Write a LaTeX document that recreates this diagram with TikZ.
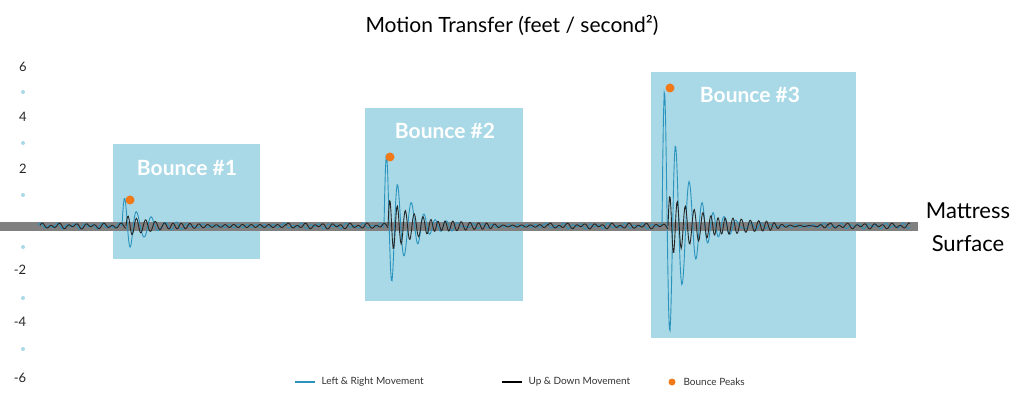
\documentclass[tikz,border=0pt]{standalone}
\usepackage{fontspec}
\setmainfont{Lato}
\definecolor{boxblue}{HTML}{A9D9E6}
\definecolor{sigblue}{HTML}{2A93BE}
\definecolor{peak}{HTML}{F07A1A}
\definecolor{dotblue}{HTML}{A9D9E6}
\newcommand\mybursts[5]{\draw[#5] plot[domain=0:160,samples=220] ({\x+#1},{226-#2*exp(-\x/#3)*sin(#4*\x+40*sin(7*\x))-1.5*sin(41*\x)});}
\newcommand\mynoiseseg[3]{\draw[#3] plot[domain=0:#2,samples=120] ({\x+#1},{226-1.8*sin(41*\x)-1.2*sin(23*\x+30)});}
\begin{document}
\begin{tikzpicture}[x=1pt,y=-1pt,
  bx/.style={fill=boxblue,draw=none},
  bsig/.style={sigblue,line width=0.9pt},
  ksig/.style={black!85,line width=0.9pt},
  blab/.style={text=white,font=\bfseries\fontsize{21}{24}\selectfont},
  ylab/.style={font=\fontsize{13}{15}\selectfont,text=black!85},
  leg/.style={font=\fontsize{10}{12}\selectfont,anchor=west,text=black!80}]
\useasboundingbox (0,0) rectangle (1024,403);
\fill[white] (0,0) rectangle (1024,403);
% boxes
\fill[bx] (113,144) rectangle (260,259);
\fill[bx] (365,108) rectangle (523,301);
\fill[bx] (651,72) rectangle (856,338);
% mattress band
\fill[black!50] (0,222) rectangle (918,231);
% blue signal
\mynoiseseg{38}{84}{bsig}
\mybursts{122}{30}{22}{28}{bsig}
\mynoiseseg{282}{102}{bsig}
\mybursts{384}{78}{22}{30}{bsig}
\mynoiseseg{544}{118}{bsig}
\mybursts{662}{150}{22}{30}{bsig}
\mynoiseseg{822}{88}{bsig}
% black signal
\mynoiseseg{40}{86}{ksig}
\mybursts{126}{9}{30}{40}{ksig}
\mynoiseseg{286}{102}{ksig}
\mybursts{388}{26}{35}{45}{ksig}
\mynoiseseg{548}{120}{ksig}
\mybursts{668}{30}{45}{45}{ksig}
\mynoiseseg{828}{82}{ksig}
% labels
\node[blab] (b1) at (187,168) {Bounce \#1};
\node[blab] (b2) at (445,131) {Bounce \#2};
\node[blab] (b3) at (750,95) {Bounce \#3};
\fill[peak] (130,200) circle (4.5);
\fill[peak] (390,157) circle (4.5);
\fill[peak] (670,88) circle (4.5);
% title
\node[font=\fontsize{21}{24}\selectfont] (title) at (512,25) {Motion Transfer (feet / second²)};
% axis
\node[ylab] (y6) at (23,67) {6};
\node[ylab] (y4) at (23,117) {4};
\node[ylab] (y2) at (23,169) {2};
\node[ylab] (ym2) at (20,270) {-2};
\node[ylab] (ym4) at (20,322) {-4};
\node[ylab] (ym6) at (20,378) {-6};
\foreach \yy in {92,143,195,247,298,349} \fill[dotblue] (23,\yy) circle (2);
% mattress text
\node[font=\fontsize{22}{24}\selectfont] (m) at (968,211) {Mattress};
\node[font=\fontsize{22}{24}\selectfont] (s) at (968,244) {Surface};
% legend
\draw[sigblue,line width=1.2pt] (295,382) -- (315,382);
\node[leg] (l1) at (318,382) {Left \& Right Movement};
\draw[black,line width=1.2pt] (502,382) -- (522,382);
\node[leg] (l2) at (525,382) {Up \& Down Movement};
\fill[peak] (672,382) circle (3.5);
\node[leg] (l3) at (680,382) {Bounce Peaks};
\end{tikzpicture}
\end{document}
